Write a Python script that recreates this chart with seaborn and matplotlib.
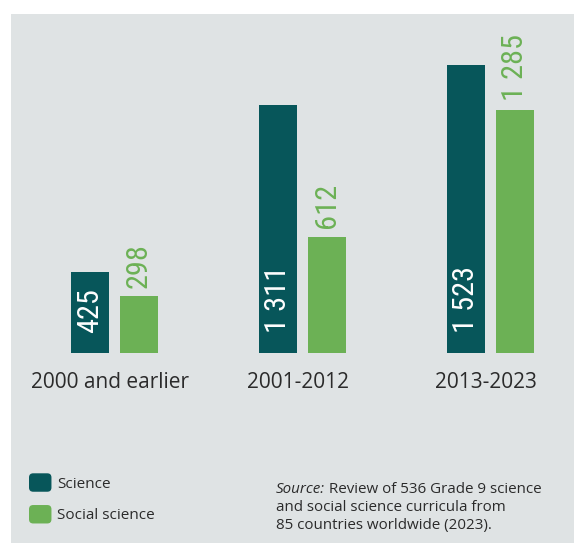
import matplotlib
matplotlib.use("Agg")
import matplotlib.pyplot as plt
import seaborn as sns
import pandas as pd
from matplotlib import font_manager
from matplotlib.transforms import ScaledTranslation
from matplotlib.patches import Rectangle, FancyBboxPatch, Patch
from matplotlib.legend_handler import HandlerPatch

# ---- data ----
periods = ["2000 and earlier", "2001-2012", "2013-2023"]
series_names = ["Science", "Social science"]
science = [425, 1311, 1523]
social = [298, 612, 1285]
science_labels = ["425", "1 311", "1 523"]
social_labels = ["298", "612", "1 285"]
source_lead = "Source:"
source_rest = " Review of 536 Grade 9 science"
source_lines = ["and social science curricula from", "85 countries worldwide (2023)."]

# ---- style ----
BG = "#DFE3E4"
C_SCI = "#07565A"
C_SOC = "#6CB155"
TXT = "#2B2B2B"
MAIN = ["Open Sans", "DejaVu Sans"]


def _regular(f):
    w = f.weight
    if isinstance(w, str):
        w = font_manager.weight_dict.get(w, 400)
    return w <= 450 and f.style == "normal"


installed = {f.name for f in font_manager.fontManager.ttflist if _regular(f)}
narrow_candidates = ["Liberation Sans Narrow", "Noto Sans Condensed",
                     "Open Sans Condensed", "Roboto Condensed",
                     "DejaVu Sans Condensed", "Open Sans"]
NARROW = [f for f in narrow_candidates if f in installed][:1] + ["DejaVu Sans"]

sns.set_theme(style="white")
plt.rcParams["font.family"] = MAIN

W, H = 574, 545
fig = plt.figure(figsize=(W / 100, H / 100), dpi=100)
fig.patch.set_facecolor("white")
fig.add_artist(Rectangle((11 / W, 2 / H), 1 - 11 / W, (543 - 14) / H,
                         transform=fig.transFigure, facecolor=BG,
                         edgecolor="none", zorder=0))

ax = fig.add_axes([11 / W, (H - 352.7) / H, (W - 11) / W, 302.2 / H])
ax.set_facecolor("none")

df = pd.DataFrame({
    "period": periods * 2,
    "series": [series_names[0]] * 3 + [series_names[1]] * 3,
    "value": science + social,
})

sns.barplot(data=df, x="period", y="value", hue="series",
            hue_order=series_names, palette=[C_SCI, C_SOC], saturation=1,
            width=0.521, gap=0.224, errorbar=None, ax=ax, legend=False,
            linewidth=0, edgecolor="none")

ax.set_xlim(-0.549, 2.445)
ax.set_ylim(0, 1600)
for s in ax.spines.values():
    s.set_visible(False)
ax.set_yticks([])
ax.set_xlabel("")
ax.set_ylabel("")
ax.tick_params(axis="x", length=0, pad=13.9, labelsize=15, labelcolor=TXT)

# size the condensed value labels so that "425" is ~45 px long
probe = fig.text(0, 0, science_labels[0], fontsize=20, family=NARROW,
                 weight="normal")
fig.canvas.draw()
pw = probe.get_window_extent().width
probe.remove()
VSIZE = min(22.0, 20 * 45.0 / pw)

# nudge category labels slightly left, as in the reference
shift = ScaledTranslation(-4 / 100, 0, fig.dpi_scale_trans)
for lbl in ax.get_xticklabels():
    lbl.set_transform(lbl.get_transform() + shift)

# value labels
for bar, lab in zip(ax.containers[0], science_labels):
    x = bar.get_x() + bar.get_width() / 2
    ax.annotate(lab, xy=(x, 0), xytext=(0, 14.4), textcoords="offset points",
                rotation=90, ha="center", va="bottom", color="white",
                fontsize=VSIZE, family=NARROW, weight="normal")
for bar, lab in zip(ax.containers[1], social_labels):
    x = bar.get_x() + bar.get_width() / 2
    ax.annotate(lab, xy=(x, bar.get_height()), xytext=(0, 6.3),
                textcoords="offset points", rotation=90, ha="center",
                va="bottom", color=C_SOC, fontsize=VSIZE, family=NARROW,
                weight="normal")

# legend
def rounded(legend, orig_handle, xdescent, ydescent, width, height, fontsize):
    return FancyBboxPatch((-xdescent, -ydescent), width, height,
                          boxstyle="round,pad=0,rounding_size=3")

handles = [Patch(facecolor=C_SCI, edgecolor="none"),
           Patch(facecolor=C_SOC, edgecolor="none")]
fig.legend(handles, series_names, loc="upper left",
           bbox_to_anchor=(29 / W, 1 - 473.3 / H), frameon=False,
           borderpad=0, borderaxespad=0, handlelength=1.47, handleheight=1.48,
           handletextpad=0.38, labelspacing=0.87, fontsize=11,
           labelcolor=TXT, handler_map={Patch: HandlerPatch(patch_func=rounded)})

# source
SSIZE = 10.9
t0 = fig.text(276 / W, 1 - 492.7 / H, source_lead, style="italic",
              fontsize=SSIZE, color=TXT, va="baseline", ha="left")
ax.annotate(source_rest, xy=(1, 0), xycoords=t0, ha="left", va="bottom",
            fontsize=SSIZE, color=TXT, annotation_clip=False)
for i, line in enumerate(source_lines):
    fig.text(276 / W, 1 - (511.0 + 18.3 * i) / H, line, fontsize=SSIZE,
             color=TXT, va="baseline", ha="left")

fig.savefig("out.png", dpi=100, facecolor="white")
